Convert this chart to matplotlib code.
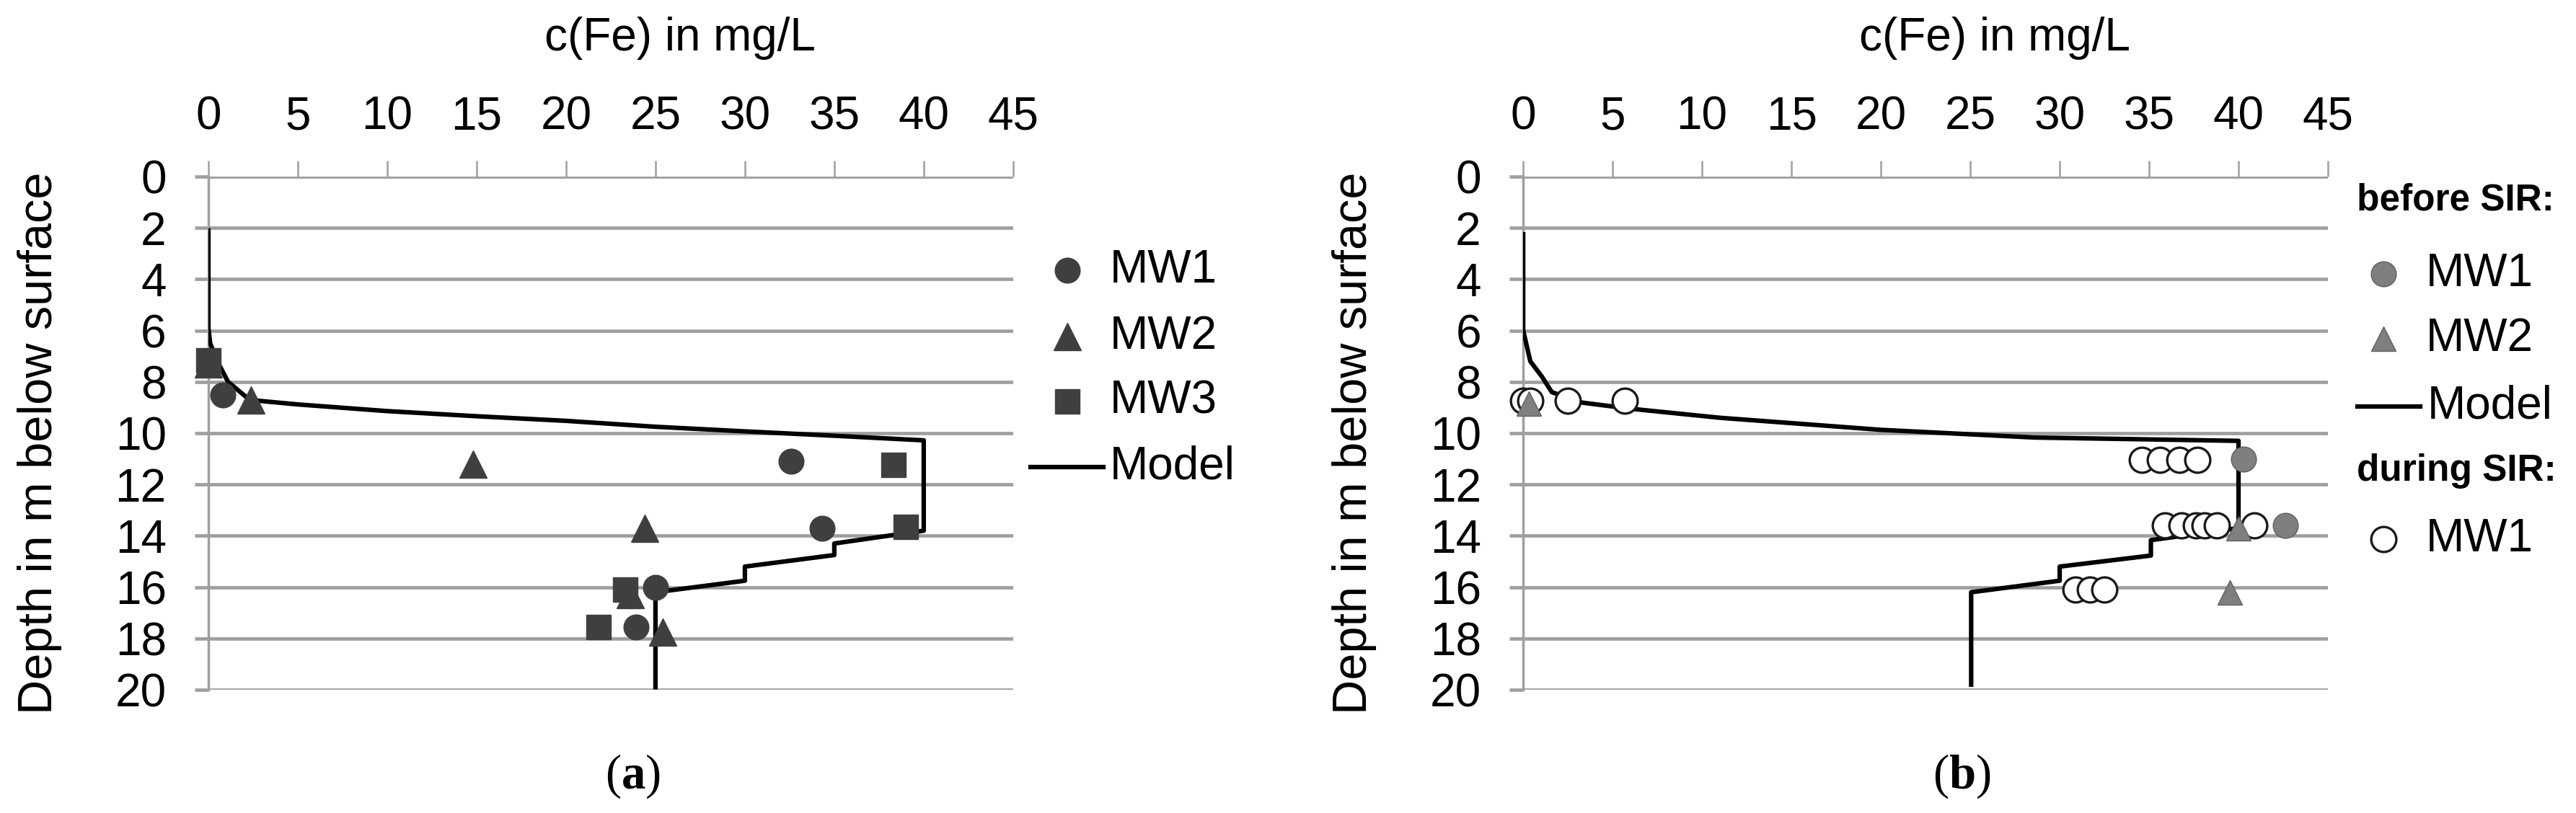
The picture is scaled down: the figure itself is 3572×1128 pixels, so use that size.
import matplotlib
matplotlib.use("Agg")
import matplotlib.pyplot as plt

plt.rcParams["font.family"] = ["Liberation Sans", "DejaVu Sans"]
plt.rcParams["mathtext.fontset"] = "custom"
plt.rcParams["mathtext.rm"] = "Liberation Serif"
plt.rcParams["mathtext.bf"] = "Liberation Serif:bold"

# ---- data: panel (a) ----
model_a_fe = [0, 0, 0.1, 0.5, 1.1, 2.3, 3.0, 5, 10, 15, 20, 25, 30, 35, 40,
              40, 35, 35, 30, 30, 25, 25]
model_a_depth = [2.1, 5.9, 6.5, 7.2, 8.0, 8.7, 8.75, 8.88, 9.14, 9.34, 9.52, 9.75,
                 9.93, 10.1, 10.28, 13.8, 14.3, 14.75, 15.2, 15.75, 16.2, 19.9]
mw1_a_fe = [0.8, 32.6, 34.3, 25.0, 23.9]
mw1_a_depth = [8.5, 11.1, 13.7, 16.0, 17.55]
mw2_a_fe = [0.0, 2.4, 14.8, 24.4, 23.6, 25.4]
mw2_a_depth = [7.3, 8.7, 11.2, 13.7, 16.3, 17.75]
mw3_a_fe = [0.0, 38.3, 39.0, 23.3, 21.8]
mw3_a_depth = [7.15, 11.25, 13.65, 16.1, 17.55]

# ---- data: panel (b) ----
model_b_fe = [0, 0, 0.4, 1.05, 1.6, 3.2, 5.9, 11, 20, 28.6, 40,
              40, 35.1, 35.1, 30, 30, 25.05, 25.05]
model_b_depth = [2.25, 6.0, 7.2, 7.8, 8.4, 8.8, 9.04, 9.4, 9.87, 10.17, 10.3,
                 13.7, 14.17, 14.77, 15.2, 15.75, 16.2, 19.8]
before_mw1_fe = [40.3, 42.6]
before_mw1_depth = [11.0, 13.6]
before_mw2_fe = [0.3, 40.0, 39.5]
before_mw2_depth = [8.85, 13.7, 16.2]
during_mw1_fe = [0.0, 0.4, 2.5, 5.7,
                 34.6, 35.6, 36.7, 37.7,
                 35.9, 36.8, 37.6, 38.1, 38.8, 40.9,
                 30.9, 31.7, 32.5]
during_mw1_depth = [8.75, 8.75, 8.75, 8.75,
                    11.05, 11.05, 11.05, 11.05,
                    13.6, 13.6, 13.6, 13.6, 13.6, 13.6,
                    16.1, 16.1, 16.1]

x_ticks = list(range(0, 46, 5))
y_ticks = list(range(0, 21, 2))

FS = 46
GRID = "#9f9f9f"
DARK = "#3f3f3f"
MID = "#7f7f7f"


def style_axes(ax):
    ax.set_xlim(0, 45)
    ax.set_ylim(20, 0)
    ax.xaxis.tick_top()
    ax.set_xticks(x_ticks)
    ax.set_yticks(y_ticks)
    for s in ["top", "right", "bottom"]:
        ax.spines[s].set_visible(False)
    ax.spines["left"].set_color(GRID)
    ax.spines["left"].set_linewidth(2.5)
    ax.yaxis.grid(True, color=GRID, linewidth=3.4)
    ax.set_axisbelow(True)
    ax.tick_params(axis="x", top=True, bottom=False, direction="out", length=16,
                   width=1.8, color=GRID, pad=22, labelsize=FS)
    ax.tick_params(axis="y", direction="out", length=14, width=3.4, color=GRID,
                   pad=28, labelsize=FS)
    ax.text(0.586, 1.27, "c(Fe) in mg/L", transform=ax.transAxes,
            ha="center", va="center", fontsize=FS)
    ax.text(-0.21, 0.48, "Depth in m below surface", transform=ax.transAxes,
            ha="center", va="center", rotation=90, fontsize=48)


def legend_marker(ax, x, y, label, **kw):
    ax.plot([x], [y], transform=ax.transAxes, clip_on=False, linestyle="none", **kw)
    ax.text(x + 0.053, y, label, transform=ax.transAxes, ha="left", va="center",
            fontsize=FS)


def legend_line(ax, x0, x1, y, label):
    ax.plot([x0, x1], [y, y], transform=ax.transAxes, clip_on=False,
            color="black", linewidth=4.5)
    ax.text(x1 + 0.008, y, label, transform=ax.transAxes, ha="left", va="center",
            fontsize=FS)


fig = plt.figure(figsize=(35.72, 11.28), dpi=100)
ax_a = fig.add_axes([0.0809, 0.1516, 0.3124, 0.6312])
ax_b = fig.add_axes([0.5913, 0.1516, 0.3124, 0.6312])

# panel (a)
style_axes(ax_a)
ax_a.plot(model_a_fe, model_a_depth, color="black", linewidth=4.5, zorder=3)
ax_a.plot(mw1_a_fe, mw1_a_depth, "o", color=DARK, markersize=25, zorder=4, clip_on=False)
ax_a.plot(mw2_a_fe, mw2_a_depth, "^", color=DARK, markersize=27, zorder=4, clip_on=False)
ax_a.plot(mw3_a_fe, mw3_a_depth, "s", color=DARK, markersize=25, zorder=4, clip_on=False)

legend_marker(ax_a, 1.067, 0.817, "MW1", marker="o", color=DARK, markersize=25)
legend_marker(ax_a, 1.067, 0.688, "MW2", marker="^", color=DARK, markersize=27)
legend_marker(ax_a, 1.067, 0.562, "MW3", marker="s", color=DARK, markersize=25)
legend_line(ax_a, 1.022, 1.112, 0.434, "Model")

# panel (b)
style_axes(ax_b)
ax_b.plot(model_b_fe, model_b_depth, color="black", linewidth=4.5, zorder=3)
ax_b.plot(during_mw1_fe, during_mw1_depth, "o", markerfacecolor="white",
          markeredgecolor="#1a1a1a", markeredgewidth=2.4, markersize=25, zorder=4,
          clip_on=False)
ax_b.plot(before_mw1_fe, before_mw1_depth, "o", color=MID, markeredgecolor="#606060",
          markersize=25, zorder=5, clip_on=False)
ax_b.plot(before_mw2_fe, before_mw2_depth, "^", color=MID, markeredgecolor="#606060",
          markersize=25, zorder=5, clip_on=False)

ax_b.text(1.036, 0.954, "before SIR:", transform=ax_b.transAxes, ha="left",
          va="center", fontsize=37, fontweight="bold")
legend_marker(ax_b, 1.069, 0.810, "MW1", marker="o", color=MID,
              markeredgecolor="#606060", markersize=25)
legend_marker(ax_b, 1.069, 0.684, "MW2", marker="^", color=MID,
              markeredgecolor="#606060", markersize=25)
legend_line(ax_b, 1.037, 1.115, 0.552, "Model")
ax_b.text(1.036, 0.426, "during SIR:", transform=ax_b.transAxes, ha="left",
          va="center", fontsize=37, fontweight="bold")
legend_marker(ax_b, 1.069, 0.294, "MW1", marker="o", markerfacecolor="white",
              markeredgecolor="#1a1a1a", markeredgewidth=2.4, markersize=25)

fig.text(877 / 3572, 1 - 1077 / 1128, r"($\mathbf{a}$)", family="Liberation Serif",
         fontsize=48, ha="center", va="center")
fig.text(2720 / 3572, 1 - 1077 / 1128, r"($\mathbf{b}$)", family="Liberation Serif",
         fontsize=48, ha="center", va="center")

fig.savefig("out.png", dpi=100, facecolor="white")
